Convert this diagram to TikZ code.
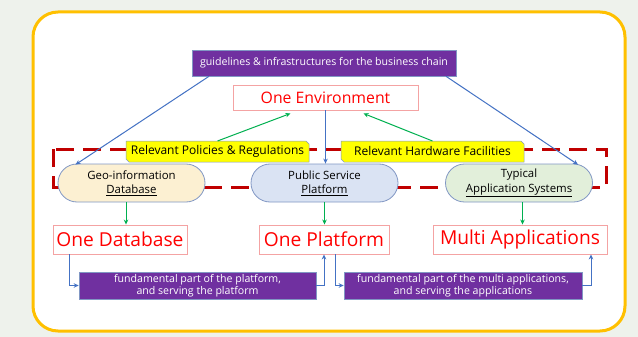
\documentclass[tikz,border=0pt]{standalone}
\usepackage{fontspec}
\setmainfont{Open Sans}
\usetikzlibrary{arrows.meta,shapes.misc}
\definecolor{frameY}{HTML}{FFC000}
\definecolor{purp}{HTML}{7030A0}
\definecolor{blueA}{HTML}{4472C4}
\definecolor{greenA}{HTML}{00B050}
\definecolor{redT}{HTML}{FF0000}
\definecolor{pinkB}{HTML}{F4A3A3}
\definecolor{dashR}{HTML}{C00000}
\definecolor{ovalB}{HTML}{8197C4}
\definecolor{fillGeo}{HTML}{FCF0D2}
\definecolor{fillPub}{HTML}{DAE3F3}
\definecolor{fillTyp}{HTML}{E2EFDA}
\definecolor{bgc}{HTML}{EEF2EC}
\definecolor{labY}{HTML}{FFFF00}
\begin{document}
\begin{tikzpicture}[x=1pt,y=-1pt,
  purpbox/.style={fill=purp,draw=ovalB,line width=0.6pt,text=white,inner sep=0pt,align=center,font=\fontsize{10.6}{12.5}\selectfont},
  redbox/.style={fill=white,draw=pinkB,line width=0.9pt,text=redT,inner sep=0pt},
  labtext/.style={inner sep=0pt,font=\fontsize{12}{14}\selectfont},
  labshape/.style={fill=labY,draw=ovalB,line width=0.5pt},
  oval/.style={rounded rectangle,draw=ovalB,line width=0.8pt,minimum width=147pt,minimum height=38pt,inner sep=0pt,align=center,font=\fontsize{11.4}{14.5}\selectfont},
  bluearr/.style={draw=blueA,line width=1pt,-{Stealth[length=5pt,width=4.5pt]}},
  greenarr/.style={draw=greenA,line width=1pt,-{Stealth[length=5pt,width=4.5pt]}}
]
\fill[bgc] (0,0) rectangle (638,337);
\useasboundingbox (0,0) rectangle (638,337);
\fill[white,draw=frameY,line width=3pt,rounded corners=25pt] (33,12) rectangle (625,331);
\draw[dashR,line width=3pt,dash pattern=on 18pt off 9pt] (53,149) rectangle (606,187);

\node[purpbox,minimum width=264pt,minimum height=26pt] (top) at (324,63) {guidelines \& infrastructures for the business chain};
\node[redbox,minimum width=185pt,minimum height=25pt,font=\fontsize{15.8}{18}\selectfont] (env) at (325.5,97.5) {One Environment};

\path[labshape] (126,141) -- (306,141) -- (309,144) -- (309,162) -- (129,162) -- (126,159) -- cycle;
\node[labtext] (pol) at (217.5,151.5) {Relevant Policies \& Regulations};
\path[labshape] (341,141) -- (521,141) -- (524,144) -- (524,162) -- (344,162) -- (341,159) -- cycle;
\node[labtext] (hw) at (432.5,151.5) {Relevant Hardware Facilities};

\node[oval,fill=fillGeo] (geo) at (131.5,183) {Geo-information\\\underline{Database}};
\node[oval,fill=fillPub] (pub) at (324.5,183) {Public Service\\\underline{Platform}};
\node[oval,fill=fillTyp] (typ) at (519,183) {Typical\\\underline{Application Systems}};

\node[redbox,minimum width=134pt,minimum height=29pt,font=\fontsize{19.2}{22}\selectfont] (db) at (120,239.5) {One Database};
\node[redbox,minimum width=130pt,minimum height=29pt,font=\fontsize{19.2}{22}\selectfont] (pf) at (324,239.5) {One Platform};
\node[redbox,minimum width=174pt,minimum height=29pt,font=\fontsize{19.2}{22}\selectfont] (ma) at (520,239.5) {Multi Applications};

\node[purpbox,minimum width=237pt,minimum height=27pt] (b1) at (197.5,285.5) {fundamental part of the platform,\\and serving the platform};
\node[purpbox,minimum width=238pt,minimum height=27pt] (b2) at (463,285.5) {fundamental part of the multi applications,\\and serving the applications};

\draw[bluearr] ([xshift=-115pt]top.south) -- ([xshift=-56pt,yshift=-1pt]geo.north);
\draw[bluearr] ([xshift=122pt]top.south) -- ([xshift=59pt,yshift=-1pt]typ.north);
\draw[bluearr] (env.south) -- (env.south |- pub.north);

\draw[greenarr] ([yshift=10.5pt]pol.center) -- ([xshift=-35pt,yshift=-3pt]env.south);
\draw[greenarr] ([yshift=10.5pt]hw.center) -- ([xshift=38pt,yshift=-3pt]env.south);

\draw[greenarr] ([xshift=-5.5pt]geo.south) -- ([xshift=-5.5pt]geo.south |- db.north);
\draw[greenarr] (pub.south) -- (pub.south |- pf.north);
\draw[greenarr] ([xshift=3.5pt]typ.south) -- ([xshift=3.5pt]typ.south |- ma.north);

\draw[bluearr] ([xshift=-51pt]db.south) |- (b1.west);
\draw[bluearr] (b1.east) -| (pf.south);
\draw[bluearr] ([xshift=11pt]pf.south) |- (b2.west);
\draw[bluearr] (b2.east) -| ([xshift=71pt]ma.south);
\end{tikzpicture}
\end{document}
